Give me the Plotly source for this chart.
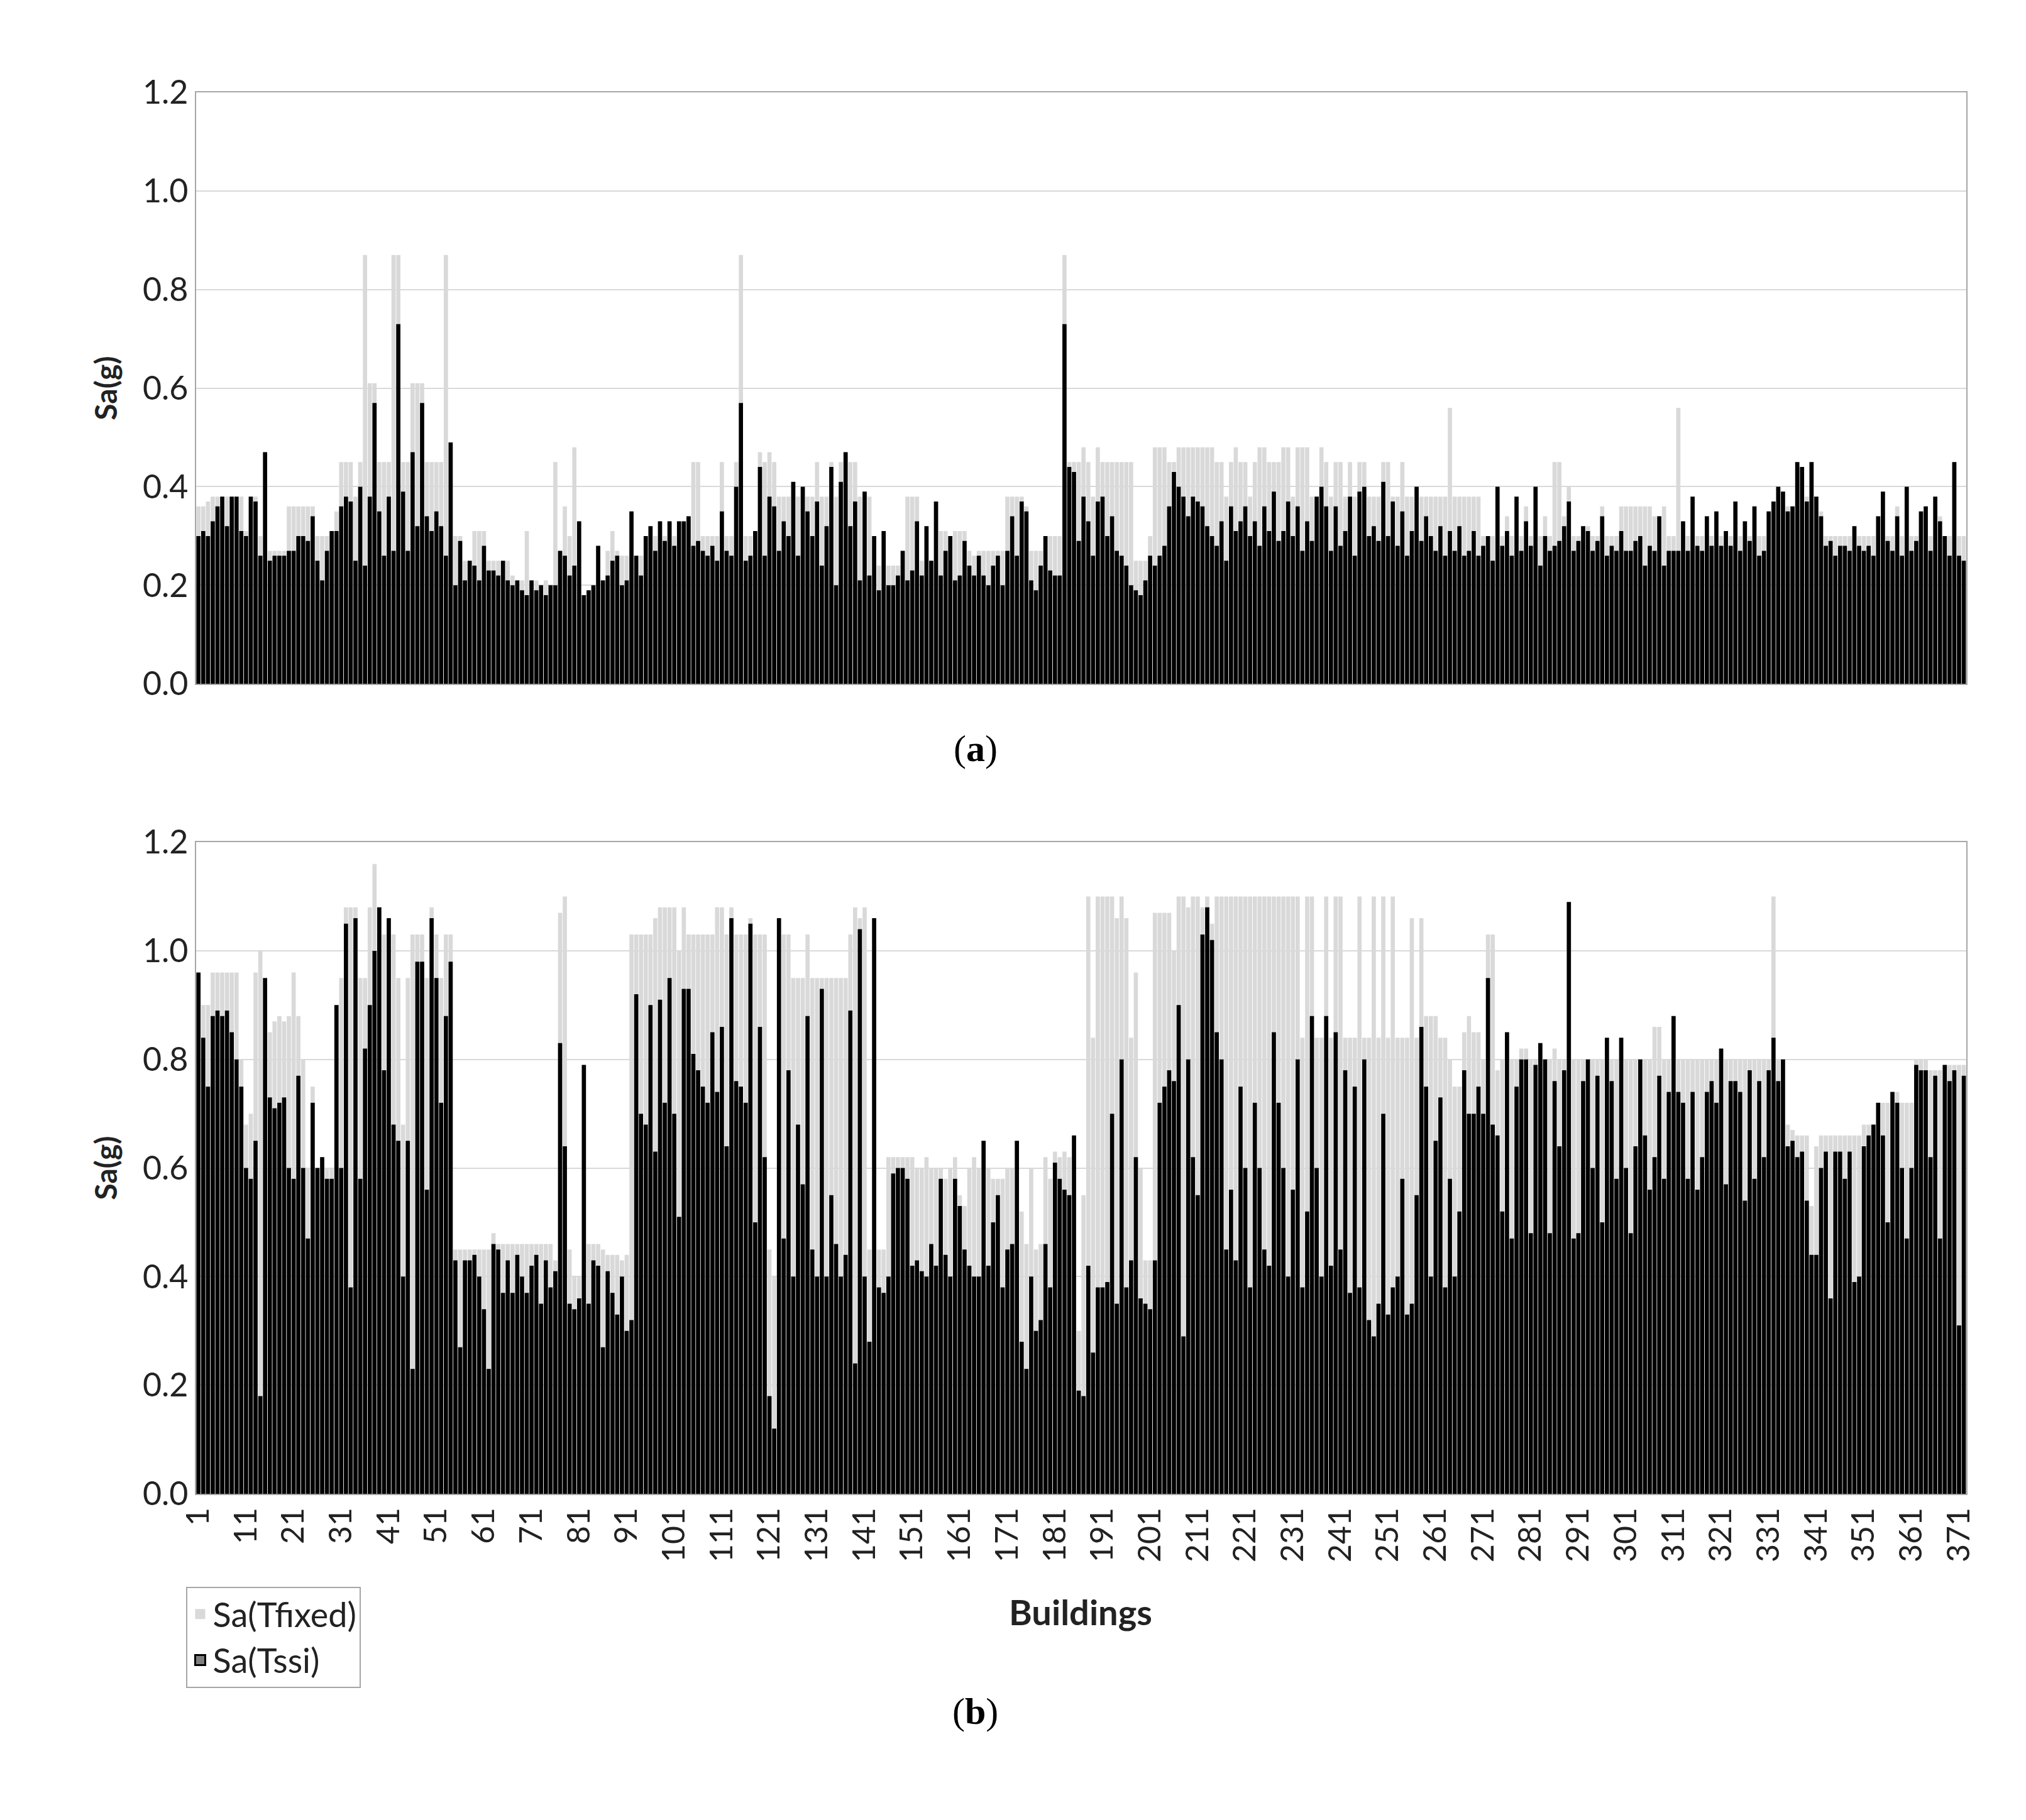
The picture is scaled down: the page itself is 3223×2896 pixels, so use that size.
import plotly.graph_objects as go

buildings = list(range(1, 373))
tick_vals = list(range(1, 372, 10))

a_ssi = [0.30,0.31,0.30,0.33,0.36,0.38,0.32,0.38,0.38,0.31,
0.30,0.38,0.37,0.26,0.47,0.25,0.26,0.26,0.26,0.27,
0.27,0.30,0.30,0.29,0.34,0.25,0.21,0.27,0.31,0.31,
0.36,0.38,0.37,0.25,0.40,0.24,0.38,0.57,0.35,0.26,
0.38,0.27,0.73,0.39,0.27,0.47,0.32,0.57,0.34,0.31,
0.35,0.32,0.26,0.49,0.20,0.29,0.21,0.25,0.24,0.21,
0.28,0.23,0.23,0.22,0.25,0.21,0.20,0.21,0.19,0.18,
0.21,0.19,0.20,0.18,0.20,0.20,0.27,0.26,0.22,0.24,
0.33,0.18,0.19,0.20,0.28,0.21,0.22,0.25,0.26,0.20,
0.21,0.35,0.26,0.22,0.30,0.32,0.27,0.33,0.29,0.33,
0.28,0.33,0.33,0.34,0.28,0.29,0.27,0.26,0.28,0.25,
0.35,0.27,0.26,0.40,0.57,0.25,0.26,0.31,0.44,0.26,
0.38,0.36,0.27,0.33,0.30,0.41,0.26,0.40,0.35,0.30,
0.37,0.24,0.32,0.44,0.20,0.41,0.47,0.32,0.37,0.21,
0.39,0.22,0.30,0.19,0.31,0.20,0.20,0.22,0.27,0.21,
0.23,0.33,0.22,0.32,0.25,0.37,0.22,0.27,0.30,0.21,
0.22,0.29,0.24,0.22,0.26,0.22,0.20,0.24,0.26,0.20,
0.27,0.34,0.26,0.37,0.35,0.21,0.19,0.24,0.30,0.23,
0.22,0.22,0.73,0.44,0.43,0.29,0.38,0.33,0.26,0.37,
0.38,0.30,0.34,0.27,0.26,0.24,0.20,0.19,0.18,0.21,
0.26,0.24,0.26,0.28,0.36,0.43,0.40,0.38,0.34,0.38,
0.37,0.36,0.32,0.30,0.28,0.33,0.25,0.36,0.31,0.33,
0.36,0.30,0.33,0.28,0.36,0.31,0.39,0.29,0.31,0.37,
0.30,0.36,0.27,0.33,0.29,0.38,0.40,0.36,0.27,0.36,
0.28,0.31,0.38,0.26,0.39,0.40,0.30,0.32,0.29,0.41,
0.30,0.37,0.28,0.35,0.26,0.31,0.40,0.29,0.34,0.30,
0.27,0.32,0.26,0.31,0.27,0.32,0.26,0.27,0.31,0.26,
0.28,0.30,0.25,0.40,0.28,0.31,0.26,0.38,0.27,0.33,
0.28,0.40,0.24,0.30,0.27,0.28,0.29,0.32,0.37,0.27,
0.29,0.32,0.31,0.27,0.29,0.34,0.26,0.28,0.27,0.31,
0.27,0.27,0.29,0.30,0.24,0.28,0.27,0.34,0.24,0.27,
0.27,0.27,0.33,0.27,0.38,0.28,0.27,0.34,0.28,0.35,
0.28,0.31,0.28,0.37,0.27,0.33,0.29,0.36,0.26,0.27,
0.35,0.37,0.40,0.39,0.35,0.36,0.45,0.44,0.37,0.45,
0.38,0.34,0.28,0.29,0.26,0.28,0.28,0.27,0.32,0.28,
0.27,0.28,0.26,0.34,0.39,0.29,0.27,0.34,0.26,0.40,
0.27,0.29,0.35,0.36,0.27,0.38,0.33,0.30,0.26,0.45,
0.26,0.25]

a_fix = [0.36,0.36,0.37,0.38,0.38,0.38,0.38,0.38,0.38,0.38,
0.31,0.38,0.38,0.30,0.47,0.27,0.27,0.27,0.27,0.36,
0.36,0.36,0.36,0.36,0.36,0.30,0.30,0.30,0.31,0.35,
0.45,0.45,0.45,0.38,0.45,0.87,0.61,0.61,0.45,0.45,
0.45,0.87,0.87,0.45,0.45,0.61,0.61,0.61,0.45,0.45,
0.45,0.45,0.87,0.49,0.30,0.30,0.25,0.25,0.31,0.31,
0.31,0.25,0.25,0.25,0.25,0.25,0.22,0.21,0.21,0.31,
0.21,0.21,0.20,0.21,0.20,0.45,0.27,0.36,0.30,0.48,
0.33,0.18,0.19,0.20,0.28,0.21,0.27,0.31,0.27,0.26,
0.26,0.35,0.26,0.26,0.30,0.32,0.30,0.33,0.30,0.33,
0.30,0.33,0.33,0.34,0.45,0.45,0.30,0.30,0.30,0.30,
0.45,0.30,0.30,0.45,0.87,0.30,0.30,0.31,0.47,0.45,
0.47,0.45,0.38,0.38,0.38,0.41,0.38,0.40,0.38,0.38,
0.45,0.38,0.38,0.45,0.38,0.45,0.47,0.45,0.45,0.38,
0.39,0.38,0.30,0.24,0.31,0.24,0.24,0.24,0.27,0.38,
0.38,0.38,0.25,0.32,0.25,0.37,0.31,0.31,0.30,0.31,
0.31,0.31,0.27,0.26,0.27,0.27,0.27,0.27,0.27,0.27,
0.38,0.38,0.38,0.38,0.36,0.27,0.27,0.27,0.30,0.30,
0.30,0.30,0.87,0.45,0.45,0.45,0.48,0.45,0.38,0.48,
0.45,0.45,0.45,0.45,0.45,0.45,0.45,0.25,0.25,0.25,
0.30,0.48,0.48,0.48,0.45,0.45,0.48,0.48,0.48,0.48,
0.48,0.48,0.48,0.48,0.45,0.45,0.38,0.45,0.48,0.45,
0.45,0.38,0.45,0.48,0.48,0.45,0.45,0.45,0.48,0.48,
0.38,0.48,0.48,0.48,0.38,0.38,0.48,0.45,0.38,0.45,
0.45,0.38,0.45,0.38,0.45,0.45,0.38,0.38,0.38,0.45,
0.45,0.38,0.38,0.45,0.38,0.38,0.40,0.38,0.38,0.38,
0.38,0.38,0.38,0.56,0.38,0.38,0.38,0.38,0.38,0.38,
0.30,0.30,0.30,0.40,0.30,0.34,0.30,0.38,0.30,0.36,
0.30,0.40,0.30,0.34,0.30,0.45,0.45,0.34,0.40,0.30,
0.30,0.32,0.32,0.30,0.30,0.36,0.30,0.30,0.30,0.36,
0.36,0.36,0.36,0.36,0.36,0.36,0.34,0.34,0.36,0.30,
0.30,0.56,0.33,0.30,0.38,0.30,0.30,0.34,0.30,0.35,
0.30,0.31,0.30,0.37,0.30,0.33,0.30,0.36,0.30,0.30,
0.35,0.37,0.40,0.39,0.36,0.36,0.45,0.44,0.38,0.45,
0.38,0.35,0.30,0.30,0.30,0.30,0.30,0.30,0.32,0.30,
0.30,0.30,0.30,0.34,0.39,0.30,0.30,0.36,0.30,0.40,
0.30,0.30,0.35,0.36,0.30,0.38,0.34,0.30,0.30,0.45,
0.30,0.30]

b_ssi = [0.96,0.84,0.75,0.88,0.89,0.88,0.89,0.85,0.80,0.75,
0.60,0.58,0.65,0.18,0.95,0.73,0.71,0.72,0.73,0.60,
0.58,0.77,0.60,0.47,0.72,0.60,0.62,0.58,0.58,0.90,
0.60,1.05,0.38,1.06,0.58,0.82,0.90,1.00,1.08,0.78,
1.06,0.68,0.65,0.40,0.65,0.23,0.98,0.98,0.56,1.06,
0.95,0.72,0.88,0.98,0.43,0.27,0.43,0.43,0.44,0.40,
0.34,0.23,0.46,0.45,0.37,0.43,0.37,0.44,0.40,0.37,
0.42,0.44,0.35,0.43,0.38,0.41,0.83,0.64,0.35,0.34,
0.36,0.79,0.35,0.43,0.42,0.27,0.41,0.37,0.33,0.40,
0.30,0.32,0.92,0.70,0.68,0.90,0.63,0.91,0.72,0.95,
0.70,0.51,0.93,0.93,0.81,0.78,0.75,0.72,0.85,0.74,
0.86,0.64,1.06,0.76,0.75,0.72,1.05,0.50,0.86,0.62,
0.18,0.12,1.06,0.47,0.78,0.40,0.68,0.57,0.88,0.45,
0.40,0.93,0.40,0.55,0.46,0.40,0.44,0.89,0.24,1.04,
0.40,0.28,1.06,0.38,0.37,0.40,0.59,0.60,0.60,0.58,
0.42,0.43,0.41,0.40,0.46,0.42,0.58,0.44,0.40,0.58,
0.53,0.45,0.42,0.40,0.40,0.65,0.42,0.50,0.55,0.38,
0.45,0.46,0.65,0.28,0.23,0.40,0.30,0.32,0.46,0.38,
0.61,0.58,0.56,0.55,0.66,0.19,0.18,0.42,0.26,0.38,
0.38,0.39,0.70,0.35,0.80,0.38,0.43,0.62,0.36,0.35,
0.34,0.43,0.72,0.75,0.78,0.76,0.90,0.29,0.80,0.62,
0.55,1.03,1.08,1.02,0.85,0.80,0.45,0.56,0.43,0.75,
0.60,0.38,0.72,0.60,0.45,0.42,0.85,0.72,0.60,0.40,
0.56,0.80,0.38,0.52,0.88,0.60,0.40,0.88,0.42,0.85,
0.45,0.78,0.37,0.75,0.38,0.80,0.32,0.29,0.35,0.70,
0.33,0.38,0.40,0.58,0.33,0.35,0.55,0.86,0.75,0.40,
0.65,0.73,0.38,0.58,0.40,0.52,0.78,0.70,0.70,0.75,
0.70,0.95,0.68,0.66,0.52,0.85,0.47,0.75,0.80,0.80,
0.48,0.79,0.83,0.80,0.48,0.76,0.64,0.78,1.09,0.47,
0.48,0.76,0.80,0.60,0.77,0.50,0.84,0.76,0.58,0.84,
0.60,0.48,0.64,0.80,0.66,0.56,0.62,0.77,0.58,0.74,
0.88,0.74,0.72,0.58,0.74,0.56,0.62,0.74,0.76,0.72,
0.82,0.57,0.76,0.76,0.74,0.54,0.78,0.58,0.76,0.62,
0.78,0.84,0.76,0.80,0.64,0.65,0.62,0.63,0.54,0.44,
0.44,0.60,0.63,0.36,0.63,0.63,0.58,0.63,0.39,0.40,
0.64,0.66,0.68,0.72,0.66,0.50,0.74,0.72,0.60,0.47,
0.60,0.79,0.78,0.78,0.62,0.77,0.47,0.79,0.76,0.78,
0.31,0.77]

b_fix = [0.96,0.90,0.90,0.96,0.96,0.96,0.96,0.96,0.96,0.80,
0.68,0.70,0.96,1.00,0.95,0.85,0.87,0.88,0.87,0.88,
0.96,0.88,0.80,0.60,0.75,0.60,0.62,0.60,0.60,0.90,
0.95,1.08,1.08,1.08,0.95,0.95,1.08,1.16,1.08,1.03,
1.06,1.03,0.95,0.68,0.95,1.03,1.03,1.03,0.95,1.08,
1.03,0.95,1.03,1.03,0.45,0.45,0.45,0.45,0.45,0.45,
0.45,0.45,0.48,0.46,0.46,0.46,0.46,0.46,0.46,0.46,
0.46,0.46,0.46,0.46,0.46,0.43,1.07,1.10,0.45,0.40,
0.40,0.79,0.46,0.46,0.46,0.45,0.44,0.44,0.44,0.43,
0.44,1.03,1.03,1.03,1.03,1.03,1.06,1.08,1.08,1.08,
1.08,1.00,1.08,1.03,1.03,1.03,1.03,1.03,1.03,1.08,
1.08,1.03,1.08,1.03,1.03,1.03,1.06,1.03,1.03,1.03,
0.45,0.40,1.06,1.03,1.03,0.95,0.95,0.95,1.03,0.95,
0.95,0.95,0.95,0.95,0.95,0.95,0.95,1.03,1.08,1.06,
1.08,0.45,1.06,0.45,0.45,0.62,0.62,0.62,0.62,0.62,
0.62,0.60,0.60,0.62,0.60,0.60,0.60,0.58,0.60,0.62,
0.55,0.53,0.60,0.62,0.60,0.65,0.60,0.58,0.58,0.58,
0.60,0.60,0.65,0.52,0.46,0.60,0.45,0.46,0.62,0.58,
0.63,0.62,0.63,0.62,0.66,0.30,0.55,1.10,0.84,1.10,
1.10,1.10,1.10,1.06,1.10,1.06,0.84,0.96,0.60,0.43,
0.43,1.07,1.07,1.07,1.07,1.00,1.10,1.10,1.08,1.10,
1.10,1.08,1.10,1.05,1.10,1.10,1.10,1.10,1.10,1.10,
1.10,1.10,1.10,1.10,1.10,1.10,1.10,1.10,1.10,1.10,
1.10,1.10,0.84,1.10,1.10,0.84,0.84,1.10,0.84,1.10,
1.10,0.84,0.84,0.84,1.10,0.84,0.84,1.10,0.84,1.10,
0.84,1.10,0.84,0.84,0.84,1.06,0.84,1.06,0.88,0.88,
0.88,0.84,0.84,0.80,0.75,0.75,0.85,0.88,0.85,0.85,
0.80,1.03,1.03,0.78,0.80,0.85,0.80,0.80,0.82,0.82,
0.80,0.80,0.83,0.80,0.80,0.82,0.80,0.80,1.09,0.80,
0.80,0.80,0.80,0.80,0.80,0.80,0.84,0.80,0.80,0.84,
0.80,0.80,0.80,0.80,0.80,0.80,0.86,0.86,0.80,0.80,
0.88,0.80,0.80,0.80,0.80,0.80,0.80,0.80,0.80,0.80,
0.82,0.80,0.80,0.80,0.80,0.80,0.80,0.80,0.80,0.80,
0.80,1.10,0.80,0.80,0.68,0.67,0.66,0.66,0.66,0.53,
0.64,0.66,0.66,0.66,0.66,0.66,0.66,0.66,0.66,0.66,
0.68,0.68,0.68,0.72,0.72,0.72,0.74,0.74,0.72,0.72,
0.72,0.80,0.80,0.80,0.78,0.78,0.78,0.79,0.79,0.79,
0.79,0.79]

GRAY = "#d9d9d9"
FONT = "Lato"

fig = go.Figure()
fig.add_bar(x=buildings, y=a_fix, marker_color=GRAY, marker_line_width=0, showlegend=False, xaxis="x", yaxis="y")
fig.add_bar(x=buildings, y=a_ssi, marker_color="black", marker_line_width=0, showlegend=False, xaxis="x", yaxis="y")
fig.add_bar(x=buildings, y=b_fix, marker_color=GRAY, marker_line_width=0, showlegend=False, xaxis="x2", yaxis="y2")
fig.add_bar(x=buildings, y=b_ssi, marker_color="black", marker_line_width=0, showlegend=False, xaxis="x2", yaxis="y2")
# legend entries
fig.add_scatter(x=[None], y=[None], mode="markers", name="Sa(Tfixed)", xaxis="x2", yaxis="y2",
                marker=dict(symbol="square", size=40, color=GRAY, line=dict(width=0)))
fig.add_scatter(x=[None], y=[None], mode="markers", name="Sa(Tssi)", xaxis="x2", yaxis="y2",
                marker=dict(symbol="square", size=38, color="#7f7f7f", line=dict(width=3, color="black")))

axis_common = dict(showline=True, linecolor="#a6a6a6", linewidth=2, mirror=True,
                   range=[0.5, 372.5], showgrid=False, zeroline=False, automargin=False)
yaxis_common = dict(range=[0, 1.2], dtick=0.2, tickformat=".1f", showgrid=True,
                    gridcolor="#d9d9d9", gridwidth=2, showline=True, linecolor="#a6a6a6",
                    linewidth=2, mirror=True, zeroline=False, ticks="", automargin=False,
                    tickfont=dict(size=52, family=FONT, color="#222"),
                    title=dict(text="<b>Sa(g)</b>", font=dict(size=48, family=FONT, color="#222"), standoff=25))

fig.update_layout(
    width=3223, height=2896, paper_bgcolor="white", plot_bgcolor="white",
    margin=dict(l=0, r=0, t=0, b=0, autoexpand=False), barmode="overlay", bargap=0.12,
    xaxis=dict(domain=[0.0943, 0.968], anchor="y", showticklabels=False, **axis_common),
    yaxis=dict(domain=[0.627, 0.952], anchor="x", **yaxis_common),
    xaxis2=dict(domain=[0.0943, 0.968], anchor="y2", tickmode="array", tickvals=tick_vals,
                ticktext=[str(v) for v in tick_vals], tickangle=-90, ticks="",
                tickfont=dict(size=50, family=FONT, color="#222"), **axis_common),
    yaxis2=dict(domain=[0.182, 0.540], anchor="x2", **yaxis_common),
    legend=dict(x=0.0895, y=0.131, xanchor="left", yanchor="top", bgcolor="white",
                bordercolor="#a6a6a6", borderwidth=2, traceorder="normal",
                font=dict(size=54, family=FONT, color="#222")),
    font=dict(family=FONT),
)
fig.add_annotation(text="<b>Buildings</b>", x=0.531, y=0.105, xref="paper", yref="paper",
                   showarrow=False, font=dict(size=56, family=FONT, color="#222"))
fig.add_annotation(text="(<b>a</b>)", x=0.479, y=0.5915, xref="paper", yref="paper",
                   showarrow=False, font=dict(size=60, family="Liberation Serif", color="black"))
fig.add_annotation(text="(<b>b</b>)", x=0.479, y=0.0505, xref="paper", yref="paper",
                   showarrow=False, font=dict(size=60, family="Liberation Serif", color="black"))

fig.write_html("out.html")
